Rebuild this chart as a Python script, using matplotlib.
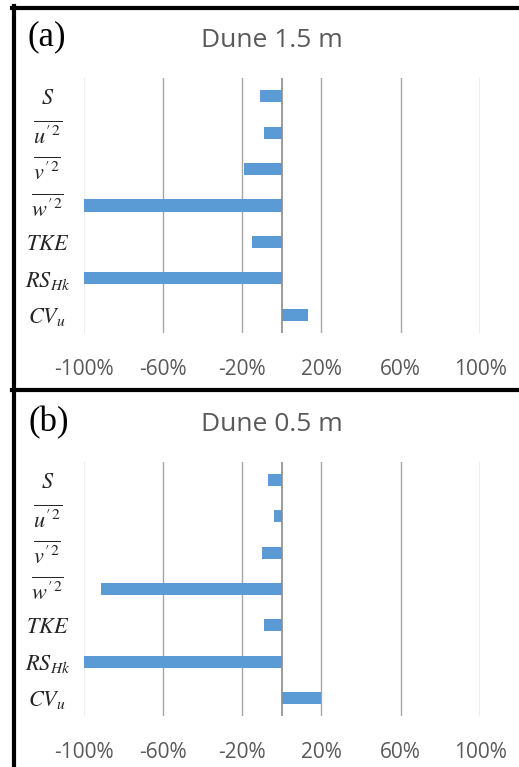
import matplotlib
matplotlib.use("Agg")
from matplotlib import pyplot as plt
from matplotlib.lines import Line2D

plt.rcParams['mathtext.fontset'] = 'stix'

categories = [r"$S$", r"$\overline{u'^2}$", r"$\overline{v'^2}$", r"$\overline{w'^2}$",
              r"$TKE$", r"$RS_{Hk}$", r"$CV_u$"]
dune15 = [-11, -9, -19, -100, -15, -100, 13]
dune05 = [-7, -4, -10, -91, -9, -100, 20]
titles = ["Dune 1.5 m", "Dune 0.5 m"]
letters = ["(a)", "(b)"]
xticks = [-100, -60, -20, 20, 60, 100]
xticklabels = ["-100%", "-60%", "-20%", "20%", "60%", "100%"]

W, H = 519, 767
fig = plt.figure(figsize=(W / 100, H / 100), dpi=100)

blue = "#5B9BD5"
gray_txt = "#595959"
grid_c = "#A6A6A6"

# pixel boxes: (left, top, right, bottom) of plot area
boxes = [(83.5, 78, 480, 333), (83.5, 462, 480, 716)]
letter_pos = [(47, 37), (49, 423)]

for k, vals in enumerate([dune15, dune05]):
    l, t, r, b = boxes[k]
    ax = fig.add_axes([l / W, 1 - b / H, (r - l) / W, (b - t) / H])
    y = list(range(len(categories)))
    ax.barh(y, vals, height=0.33, color=blue, zorder=3)
    ax.set_xlim(-100, 100)
    ax.set_ylim(len(categories) - 0.5, -0.5)
    for xv in xticks:
        ax.axvline(xv, color=grid_c, lw=1.0, zorder=1)
    ax.axvline(0, color="#8C8C8C", lw=1.2, zorder=4)
    ax.set_xticks(xticks)
    ax.set_xticklabels(xticklabels, fontsize=15, color=gray_txt, family="Open Sans")
    ax.set_yticks(y)
    ax.set_yticklabels(categories, fontsize=16, color="#262626")
    for lab in ax.get_yticklabels():
        lab.set_horizontalalignment("center")
    ax.tick_params(axis="y", length=0, pad=26)
    ax.tick_params(axis="x", length=0, pad=19)
    for s in ax.spines.values():
        s.set_visible(False)
    ax.set_title(titles[k], fontsize=19, color=gray_txt, family="Open Sans",
                 x=0.474, pad=22)
    lx, ly = letter_pos[k]
    fig.text(lx / W, 1 - ly / H, letters[k], fontsize=25, family="Liberation Serif",
             ha="center", va="center", color="black")

# panel borders
lw = 3.0
fig.add_artist(Line2D([14 / W, 14 / W], [0, 1 - 6 / H], color="black", lw=lw,
                      transform=fig.transFigure))
fig.add_artist(Line2D([12 / W, 1], [1 - 7.5 / H, 1 - 7.5 / H], color="black", lw=lw,
                      transform=fig.transFigure))
fig.add_artist(Line2D([12 / W, 1], [1 - 390 / H, 1 - 390 / H], color="black", lw=lw,
                      transform=fig.transFigure))

fig.savefig("out.png", dpi=100)
